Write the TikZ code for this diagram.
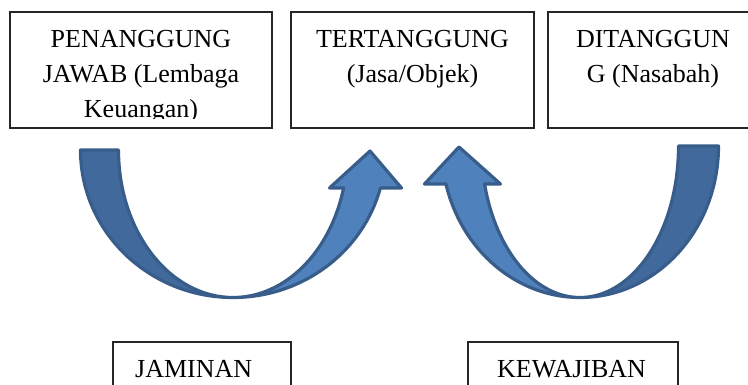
\documentclass[tikz,border=0pt]{standalone}
\usepackage{fontspec}
\setmainfont{Liberation Serif}
\definecolor{arrowline}{HTML}{385D8A}
\definecolor{arrowdark}{HTML}{41699B}
\definecolor{arrowlight}{HTML}{4F81BD}
\begin{document}
\begin{tikzpicture}[x=1pt,y=-1pt,
  boxstyle/.style={draw=black!85,line width=1.1pt,fill=none},
  lbl/.style={inner sep=0pt,font=\fontsize{26}{35}\selectfont,text=black},
  bandstyle/.style={draw=arrowline,line width=3.2pt,line join=round}]
\useasboundingbox (0,0) rectangle (748,384);
\begin{scope}
\clip (0,0) rectangle (748,384);
% top boxes
\draw[boxstyle] (10,12) rectangle (272,128);
\coordinate (b1) at (141,70);
\draw[boxstyle] (291,12) rectangle (534,128);
\coordinate (b2) at (412.5,70);
\draw[boxstyle] (548,12) rectangle (762,128);
\coordinate (b3) at (653,70);
% bottom boxes
\draw[boxstyle] (113,342) rectangle (291,400);
\draw[boxstyle] (468,342) rectangle (678,400);
% texts box 1 (clipped)
\begin{scope}
\clip (10,12) rectangle (272,118);
\node[lbl,anchor=base] (t1a) at (141,47) {PENANGGUNG};
\node[lbl,anchor=base] (t1b) at (141,82) {JAWAB (Lembaga};
\node[lbl,anchor=base] (t1c) at (141,117) {Keuangan)};
\end{scope}
\node[lbl,anchor=base] (t2a) at (412.5,47) {TERTANGGUNG};
\node[lbl,anchor=base] (t2b) at (412.5,82) {(Jasa/Objek)};
\node[lbl,anchor=base] (t3a) at (653,47) {DITANGGUN};
\node[lbl,anchor=base] (t3b) at (653,82) {G (Nasabah)};
\node[lbl,anchor=base west] (t4) at (135,377) {JAMINAN};
\node[lbl,anchor=base west] (t5) at (497,377) {KEWAJIBAN};
% left curved arrow: centre (233,150)
\draw[bandstyle,fill=arrowlight] (233,297.5)
  arc[start angle=90,end angle=14.93,x radius=152.5,y radius=147.5]
  -- (401.5,188) -- (370,151) -- (329.5,188) -- (343.6,188)
  arc[start angle=14.93,end angle=90,x radius=114.5,y radius=147.5] -- cycle;
\draw[bandstyle,fill=arrowdark] (80.5,150)
  arc[start angle=180,end angle=90,x radius=152.5,y radius=147.5]
  arc[start angle=90,end angle=180,x radius=114.5,y radius=147.5] -- cycle;
% right curved arrow: centre (580,146)
\draw[bandstyle,fill=arrowlight] (580,297.5)
  arc[start angle=90,end angle=165.47,x radius=138.5,y radius=151.5]
  -- (424.5,184) -- (459,147) -- (500.5,184) -- (484.6,184)
  arc[start angle=165.47,end angle=90,x radius=98.5,y radius=151.5] -- cycle;
\draw[bandstyle,fill=arrowdark] (718.5,146)
  arc[start angle=0,end angle=90,x radius=138.5,y radius=151.5]
  arc[start angle=90,end angle=0,x radius=98.5,y radius=151.5] -- cycle;
\end{scope}
\end{tikzpicture}
\end{document}
